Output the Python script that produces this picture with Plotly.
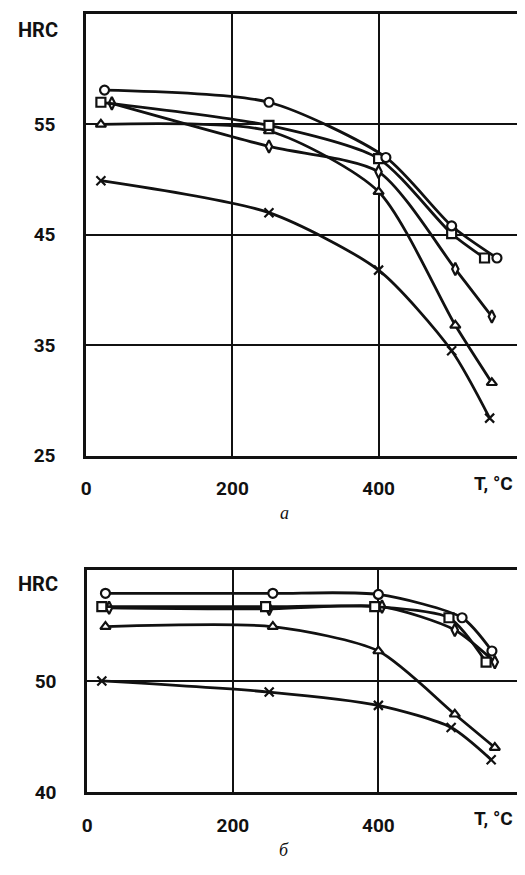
import plotly.graph_objects as go

# ---- panel a ----
a_o_T = [25, 250, 410, 500, 562]
a_o_H = [58.1, 57.0, 52.0, 45.8, 42.9]
a_sq_T = [20, 250, 400, 500, 545]
a_sq_H = [57.0, 54.9, 51.9, 45.1, 42.9]
a_di_T = [35, 250, 400, 505, 555]
a_di_H = [56.9, 53.0, 50.7, 41.9, 37.6]
a_tr_T = [20, 250, 400, 505, 555]
a_tr_H = [55.0, 54.4, 48.9, 36.8, 31.6]
a_x_T = [20, 250, 400, 500, 552]
a_x_H = [49.9, 47.0, 41.8, 34.5, 28.4]

# ---- panel б ----
b_o_T = [25, 255, 400, 515, 556]
b_o_H = [57.9, 57.9, 57.8, 55.7, 52.7]
b_sq_T = [20, 245, 395, 497, 548]
b_sq_H = [56.7, 56.7, 56.7, 55.7, 51.7]
b_di_T = [30, 250, 405, 505, 560]
b_di_H = [56.6, 56.5, 56.7, 54.6, 51.7]
b_tr_T = [25, 255, 400, 505, 560]
b_tr_H = [54.9, 54.9, 52.7, 47.0, 44.0]
b_x_T = [20, 250, 400, 500, 555]
b_x_H = [50.0, 49.0, 47.8, 45.8, 42.9]

x_ticks = [0, 200, 400]
a_y_ticks = [25, 35, 45, 55]
b_y_ticks = [40, 50]

FONT = "Roboto, DejaVu Sans"
BLACK = "#111"

# page offset (body margin) and figure size
OFF = 8
W, H = 509, 859

def fx(X):
    return (X - OFF) / W

def fy(Y):
    return 1 - (Y - OFF) / H

fig = go.Figure()

def add(T, Hh, sym, xa, ya):
    filled = not sym.startswith("x")
    fig.add_trace(go.Scatter(
        x=T, y=Hh, mode="lines+markers",
        line=dict(color=BLACK, width=2.8, shape="spline", smoothing=0.7),
        marker=dict(symbol=sym, size=9,
                    color="white" if filled else BLACK,
                    line=dict(color=BLACK, width=2.2)),
        xaxis=xa, yaxis=ya, showlegend=False, hoverinfo="skip"))

for T, Hh, s in [(a_x_T, a_x_H, "x-thin"), (a_tr_T, a_tr_H, "triangle-up"),
                 (a_di_T, a_di_H, "diamond-tall"), (a_sq_T, a_sq_H, "square"),
                 (a_o_T, a_o_H, "circle")]:
    add(T, Hh, s, "x", "y")
for T, Hh, s in [(b_x_T, b_x_H, "x-thin"), (b_tr_T, b_tr_H, "triangle-up"),
                 (b_di_T, b_di_H, "diamond-tall"), (b_sq_T, b_sq_H, "square"),
                 (b_o_T, b_o_H, "circle")]:
    add(T, Hh, s, "x2", "y2")

tickfont = dict(family=FONT, size=19, color=BLACK, weight="bold")

def xax(dom, anchor, tl, xmax):
    return dict(domain=dom, range=[0, xmax], anchor=anchor, tickvals=x_ticks,
                ticktext=[str(v) for v in x_ticks], showgrid=True,
                gridcolor=BLACK, gridwidth=2.2, showline=True, linecolor=BLACK,
                linewidth=3, mirror=True, zeroline=False, ticks="outside",
                ticklen=tl, tickcolor="rgba(0,0,0,0)", tickfont=tickfont)

def yax(dom, anchor, rng, ticks):
    return dict(domain=dom, range=rng, anchor=anchor, tickvals=ticks,
                ticktext=[str(v) for v in ticks], showgrid=True,
                gridcolor=BLACK, gridwidth=2.2, showline=True, linecolor=BLACK,
                linewidth=3, zeroline=False, ticks="outside", ticklen=24,
                tickcolor="rgba(0,0,0,0)", tickfont=tickfont)

RIGHT = OFF + W  # page pixel of figure right edge
fig.update_layout(
    width=W, height=H, margin=dict(l=0, r=0, t=0, b=0),
    paper_bgcolor="white", plot_bgcolor="white",
    xaxis=xax([fx(82), 1.0], "y", 14, (RIGHT - 82) / 0.738),
    yaxis=yax([fy(462), fy(14)], "x", [25, 65], a_y_ticks),
    xaxis2=xax([fx(83), 1.0], "y2", 14, (RIGHT - 83) / 0.735),
    yaxis2=yax([fy(803), fy(578)], "x2", [40, 60], b_y_ticks),
)

ann = [
    dict(text="HRC", x=33, y=30, size=20, anchor="center"),
    dict(text="T, °C", x=515, y=490, size=19, anchor="right"),
    dict(text="HRC", x=33, y=592, size=20, anchor="center"),
    dict(text="T, °C", x=515, y=830, size=19, anchor="right"),
]
for a in ann:
    fig.add_annotation(text=a["text"], xref="paper", yref="paper",
                       x=fx(a["x"]), y=fy(a["y"]), showarrow=False,
                       xanchor=a["anchor"], yanchor="middle",
                       font=dict(family=FONT, size=a["size"], color=BLACK,
                                 weight="bold"))
for txt, y in [("а", 520), ("б", 862)]:
    fig.add_annotation(text="<i>" + txt + "</i>", xref="paper", yref="paper",
                       x=fx(282), y=fy(y), showarrow=False,
                       xanchor="center", yanchor="middle",
                       font=dict(family="Liberation Serif", size=18, color=BLACK))

fig.write_html("out.html")
